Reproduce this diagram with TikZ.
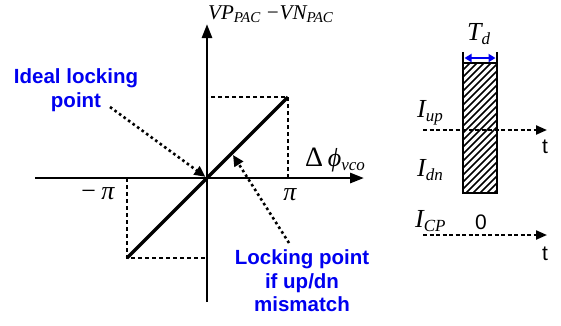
\documentclass[tikz,border=0pt]{standalone}
\usepackage{fontspec}
\setmainfont{Liberation Serif}
\newfontfamily\arialfont{Liberation Sans}
\usetikzlibrary{arrows.meta,positioning}
\definecolor{lockblue}{RGB}{0,0,240}
\newcommand{\lowsub}[2]{\raisebox{-0.16em}{\fontsize{#1}{#1}\selectfont #2}}
\tikzset{
  axis/.style={-{Triangle[length=14pt,width=10pt]}, line width=2.8pt},
  chr/.style={line width=3.4pt},
  proj/.style={dash pattern=on 4pt off 3pt, line width=1.8pt},
  ptarr/.style={-{Triangle[length=11pt,width=10pt]}, line width=2.6pt, dash pattern=on 2.6pt off 3pt},
  note/.style={text=lockblue, font=\arialfont\bfseries\fontsize{20.5}{23.5}\selectfont, align=center, inner sep=0pt},
  tlbl/.style={font=\fontsize{21}{21}\selectfont\itshape, inner sep=0pt},
  blbl/.style={font=\fontsize{26}{26}\selectfont\itshape, inner sep=0pt},
  slbl/.style={font=\arialfont\fontsize{21}{21}\selectfont, inner sep=0pt},
  tax/.style={-{Triangle[length=11pt,width=9pt]}, line width=2.2pt, dash pattern=on 4pt off 2.5pt},
  pulse/.style={line width=2.8pt},
  hatch/.style={line width=1.6pt},
  tdarr/.style={{Triangle[length=7pt,width=8pt]}-{Triangle[length=7pt,width=8pt]}, lockblue, line width=2.2pt},
}
\begin{document}
\begin{tikzpicture}[x=1pt, y=-1pt]
  \useasboundingbox (0,0) rectangle (561,325);
  % PD characteristic
  \coordinate (o) at (207,178);
  \coordinate (xl) at (35,178);
  \coordinate (xr) at (364,178);
  \coordinate (yb) at (207,302);
  \coordinate (yt) at (207,24);
  \coordinate (pmax) at (288,97);
  \coordinate (pmin) at (127,258);
  \draw[axis] (xl) -- (xr);
  \draw[axis] (yb) -- (yt);
  \draw[proj] (pmax |- o) -- (pmax) -- (o |- pmax);
  \draw[proj] (pmin |- o) -- (pmin) -- (o |- pmin);
  \draw[chr] (pmin) -- (pmax);
  \node[tlbl, anchor=base west] (vlbl) at (208,19) {VP\lowsub{15}{PAC} −VN\lowsub{15}{PAC}};
  \node[blbl, anchor=base west] (phlbl) at (305,166) {{\fontsize{28}{28}\selectfont\upshape Δ\,}ϕ\lowsub{17}{vco}};
  \node[blbl, anchor=base] (mpi) at (97,199) {−\,π};
  \node[blbl, anchor=base] (ppi) at (290,200) {π};
  % locking points
  \node[note] (ideal) at (76,90) {Ideal locking\\point};
  \node[note] (mism) at (302,281) {Locking point\\if up/dn\\mismatch};
  \coordinate (ia) at (110,107);
  \coordinate (ma) at (289,243);
  \coordinate (mp) at (233,155);
  \draw[ptarr, shorten >=2pt] (ia) -- (o);
  \draw[ptarr] (ma) -- (mp);
  % current pulses
  \begin{scope}
    \clip (463,63) rectangle (497,193);
    \foreach \k in {0,7,...,175}
      \draw[hatch] (463,63+\k) -- ++(40,-40);
  \end{scope}
  \draw[pulse] (463,52) -- (463,193) -- (497,193) -- (497,52);
  \draw[pulse] (463,63) -- (497,63);
  \draw[tdarr] (464.5,58) -- (495.5,58);
  \node[blbl, anchor=base west] (td) at (467,40) {T\lowsub{17}{d}};
  \coordinate (t1s) at (423,130);
  \coordinate (t1e) at (547,130);
  \coordinate (t2s) at (423,235);
  \coordinate (t2e) at (547,235);
  \draw[tax] (t1s) -- (t1e);
  \draw[tax] (t2s) -- (t2e);
  \node[slbl, anchor=base] (tt1) at (545,153) {t};
  \node[slbl, anchor=base] (tt2) at (545,260) {t};
  \node[blbl, anchor=base west] (iup) at (417,117) {I\lowsub{17}{up}};
  \node[blbl, anchor=base west] (idn) at (417,176) {I\lowsub{17}{dn}};
  \node[blbl, anchor=base west] (icp) at (415,227) {I\lowsub{17}{CP}};
  \node[slbl, anchor=base] (zero) at (481,229) {0};
\end{tikzpicture}
\end{document}
